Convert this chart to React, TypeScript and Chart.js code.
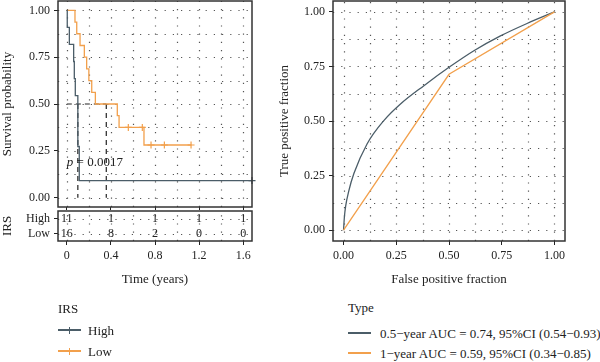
import React, { useEffect, useRef } from "react";
import { Chart, registerables } from "chart.js";
Chart.register(...registerables);

const FONT = "'Liberation Serif', 'DejaVu Serif', serif";
const HIGH_COLOR = "#4b5d68";
const LOW_COLOR = "#f2a04c";
const INK = "#222222";
const FRAME = "#333333";

// ---------- Kaplan-Meier data ----------
const kmGroups = ["High", "Low"];
const highTime = [0, 0.004, 0.023, 0.062, 0.068, 0.077, 0.1, 0.113, 1.68];
const highSurv = [1, 0.909, 0.818, 0.727, 0.636, 0.545, 0.273, 0.091, 0.091];
const highCensorTime = [1.68];
const highCensorSurv = [0.091];
const lowTime = [0, 0.074, 0.09, 0.12, 0.159, 0.18, 0.2, 0.226, 0.259, 0.458, 0.474, 0.7, 1.13];
const lowSurv = [1, 0.9375, 0.875, 0.8125, 0.75, 0.6875, 0.625, 0.5625, 0.5, 0.4375, 0.375, 0.281, 0.281];
const lowCensorTime = [0.558, 0.685, 0.764, 0.885, 1.127];
const lowCensorSurv = [0.375, 0.375, 0.281, 0.281, 0.281];
const medianTimes = [0.1, 0.358];
const medianLevel = 0.5;
const pValue = "0.0017";
const pValuePos = [0, 0.185];
const kmXTicks = [0, 0.4, 0.8, 1.2, 1.6];
const kmXGrid = [0, 0.2, 0.4, 0.6, 0.8, 1.0, 1.2, 1.4, 1.6];
const kmYTicks = [0, 0.25, 0.5, 0.75, 1];
const kmYGrid = [0, 0.125, 0.25, 0.375, 0.5, 0.625, 0.75, 0.875, 1];

// ---------- risk table ----------
const riskTimes = [0, 0.4, 0.8, 1.2, 1.6];
const riskHigh = [11, 1, 1, 1, 1];
const riskLow = [16, 8, 2, 0, 0];

// ---------- ROC data ----------
const roc05Fpr = [0, 0.004, 0.01, 0.025, 0.049, 0.112, 0.191, 0.27, 0.381, 0.5, 0.618, 0.744, 0.87, 1];
const roc05Tpr = [0, 0.06, 0.11, 0.18, 0.259, 0.396, 0.502, 0.578, 0.662, 0.746, 0.822, 0.89, 0.947, 1];
const roc1Fpr = [0, 0.5, 1];
const roc1Tpr = [0, 0.714, 1];
const rocTicks = [0, 0.25, 0.5, 0.75, 1];
const rocGrid = [0, 0.125, 0.25, 0.375, 0.5, 0.625, 0.75, 0.875, 1];
const rocLabels = [
  "0.5\u2212year AUC = 0.74, 95%CI (0.54\u22120.93)",
  "1\u2212year AUC = 0.59, 95%CI (0.34\u22120.85)",
];

const pts = (xs: number[], ys: number[]) => xs.map((x, i) => ({ x, y: ys[i] }));

const dotGrid = {
  id: "dotGrid",
  beforeDatasetsDraw(chart: any, _a: any, opts: any) {
    const { ctx, chartArea: a, scales } = chart;
    ctx.save();
    ctx.beginPath();
    ctx.rect(a.left, a.top, a.right - a.left, a.bottom - a.top);
    ctx.clip();
    ctx.strokeStyle = "#555555";
    ctx.lineWidth = 1.2;
    ctx.setLineDash([1.2, 7]);
    (opts.x || []).forEach((v: number) => {
      const p = Math.round(scales.x.getPixelForValue(v)) + 0.5;
      ctx.beginPath();
      ctx.moveTo(p, a.bottom);
      ctx.lineTo(p, a.top);
      ctx.stroke();
    });
    (opts.y || []).forEach((v: number) => {
      const p = Math.round(scales.y.getPixelForValue(v)) + 0.5;
      ctx.beginPath();
      ctx.moveTo(a.left, p);
      ctx.lineTo(a.right, p);
      ctx.stroke();
    });
    ctx.restore();
  },
};

const frame = {
  id: "frame",
  afterDraw(chart: any) {
    const { ctx, chartArea: a } = chart;
    ctx.save();
    ctx.strokeStyle = FRAME;
    ctx.lineWidth = 1.5;
    ctx.strokeRect(a.left, a.top, a.right - a.left, a.bottom - a.top);
    ctx.restore();
  },
};

const pText = {
  id: "pText",
  afterDatasetsDraw(chart: any) {
    const { ctx, scales } = chart;
    const x = scales.x.getPixelForValue(pValuePos[0]);
    const y = scales.y.getPixelForValue(pValuePos[1]);
    ctx.save();
    ctx.fillStyle = INK;
    ctx.textBaseline = "middle";
    ctx.textAlign = "left";
    ctx.font = `italic 13px ${FONT}`;
    ctx.fillText("p", x, y);
    const w = ctx.measureText("p").width;
    ctx.font = `13px ${FONT}`;
    ctx.fillText(" = " + pValue, x + w, y);
    ctx.restore();
  },
};

const riskNumbers = {
  id: "riskNumbers",
  afterDatasetsDraw(chart: any) {
    const { ctx, scales } = chart;
    ctx.save();
    ctx.fillStyle = INK;
    ctx.font = `12px ${FONT}`;
    ctx.textAlign = "center";
    ctx.textBaseline = "middle";
    [riskHigh, riskLow].forEach((row, g) => {
      const y = scales.y.getPixelForValue(g);
      row.forEach((n, i) => {
        ctx.fillText(String(n), scales.x.getPixelForValue(riskTimes[i]), y);
      });
    });
    ctx.restore();
  },
};

const tickFont = { family: FONT, size: 12 };
const titleFont = { family: FONT, size: 13 };

function linAxis(min: number, max: number, ticks: number[], fmt: (v: number) => string, extra: any) {
  return {
    type: "linear",
    min,
    max,
    afterBuildTicks: (s: any) => {
      s.ticks = ticks.map((v) => ({ value: v }));
    },
    ticks: { callback: (v: any) => fmt(Number(v)), font: tickFont, color: INK, padding: 4, autoSkip: false, maxRotation: 0 },
    grid: { drawOnChartArea: false, drawTicks: true, tickLength: 4, tickColor: INK, tickWidth: 1 },
    border: { display: false },
    ...extra,
  };
}

export default function App() {
  const kmRef = useRef<HTMLCanvasElement>(null);
  const riskRef = useRef<HTMLCanvasElement>(null);
  const rocRef = useRef<HTMLCanvasElement>(null);

  useEffect(() => {
    const charts: Chart[] = [];
    const common = {
      animation: false,
      responsive: false,
      maintainAspectRatio: false,
      events: [],
    };

    const kmDatasets: any[] = [
      {
        data: pts(highTime, highSurv),
        stepped: true,
        borderColor: HIGH_COLOR,
        borderWidth: 1.3,
        pointRadius: 0,
        clip: false,
      },
      {
        data: pts(lowTime, lowSurv),
        stepped: true,
        borderColor: LOW_COLOR,
        borderWidth: 1.3,
        pointRadius: 0,
      },
      {
        data: pts(highCensorTime, highCensorSurv),
        showLine: false,
        pointStyle: "cross",
        pointRadius: 3.5,
        pointBorderWidth: 1.2,
        borderColor: HIGH_COLOR,
        clip: false,
      },
      {
        data: pts(lowCensorTime, lowCensorSurv),
        showLine: false,
        pointStyle: "cross",
        pointRadius: 3.5,
        pointBorderWidth: 1.2,
        borderColor: LOW_COLOR,
      },
      {
        data: [
          { x: 0, y: medianLevel },
          { x: Math.max(...medianTimes), y: medianLevel },
        ],
        borderColor: INK,
        borderWidth: 1.2,
        borderDash: [5, 4],
        pointRadius: 0,
      },
      ...medianTimes.map((m) => ({
        data: [
          { x: m, y: medianLevel },
          { x: m, y: 0 },
        ],
        borderColor: INK,
        borderWidth: 1.2,
        borderDash: [5, 4],
        pointRadius: 0,
      })),
    ];

    charts.push(
      new Chart(kmRef.current!, {
        type: "line",
        data: { datasets: kmDatasets },
        options: {
          ...common,
          layout: { padding: { top: 12, right: 10, left: 0, bottom: 0 } },
          plugins: {
            legend: { display: false },
            tooltip: { enabled: false },
            dotGrid: { x: kmXGrid, y: kmYGrid },
          } as any,
          scales: {
            x: linAxis(-0.08, 1.68, kmXTicks, (v) => String(v), {
              ticks: { display: false },
              grid: { drawOnChartArea: false, drawTicks: true, tickLength: 3, tickColor: INK, tickWidth: 1 },
              afterFit: (s: any) => {
                s.height = 20;
              },
            }),
            y: linAxis(-0.05, 1.05, kmYTicks, (v) => v.toFixed(2), {
              afterFit: (s: any) => {
                s.width = 58;
              },
              title: { display: true, text: "Survival probability", font: titleFont, color: INK, padding: { top: 0, bottom: 0 } },
            }),
          } as any,
        } as any,
        plugins: [dotGrid, frame, pText],
      } as any)
    );

    charts.push(
      new Chart(riskRef.current!, {
        type: "line",
        data: { datasets: [] },
        options: {
          ...common,
          layout: { padding: { top: 12, right: 10, left: 0, bottom: 0 } },
          plugins: {
            legend: { display: false },
            tooltip: { enabled: false },
            dotGrid: { x: kmXGrid, y: [0, 1] },
          } as any,
          scales: {
            x: linAxis(-0.08, 1.68, kmXTicks, (v) => String(v), {
              afterFit: (s: any) => {
                s.height = 49;
              },
              title: { display: true, text: "Time (years)", font: titleFont, color: INK, padding: { top: 0, bottom: 3 } },
            }),
            y: {
              type: "category",
              labels: kmGroups,
              offset: true,
              afterFit: (s: any) => {
                s.width = 58;
              },
              ticks: { font: tickFont, color: INK, padding: 4, autoSkip: false },
              grid: { drawOnChartArea: false, drawTicks: true, tickLength: 4, tickColor: INK, tickWidth: 1 },
              border: { display: false },
              title: { display: true, text: "IRS", font: titleFont, color: INK, padding: { top: 0, bottom: 0 } },
            },
          } as any,
        } as any,
        plugins: [dotGrid, frame, riskNumbers],
      } as any)
    );

    charts.push(
      new Chart(rocRef.current!, {
        type: "line",
        data: {
          datasets: [
            {
              label: rocLabels[1],
              data: pts(roc1Fpr, roc1Tpr),
              borderColor: LOW_COLOR,
              borderWidth: 1.3,
              pointRadius: 0,
            },
            {
              label: rocLabels[0],
              data: pts(roc05Fpr, roc05Tpr),
              borderColor: HIGH_COLOR,
              borderWidth: 1.3,
              pointRadius: 0,
              cubicInterpolationMode: "monotone",
            },
          ],
        },
        options: {
          ...common,
          layout: { padding: { top: 12, right: 35, left: 0, bottom: 0 } },
          plugins: {
            legend: { display: false },
            tooltip: { enabled: false },
            dotGrid: { x: rocGrid, y: rocGrid },
          } as any,
          scales: {
            x: linAxis(-0.05, 1.05, rocTicks, (v) => v.toFixed(2), {
              afterFit: (s: any) => {
                s.height = 49;
              },
              title: { display: true, text: "False positive fraction", font: titleFont, color: INK, padding: { top: 0, bottom: 3 } },
            }),
            y: linAxis(-0.05, 1.05, rocTicks, (v) => v.toFixed(2), {
              afterFit: (s: any) => {
                s.width = 63;
              },
              title: { display: true, text: "True positive fraction", font: titleFont, color: INK, padding: { top: 7, bottom: 0 } },
            }),
          } as any,
        } as any,
        plugins: [dotGrid, frame],
      } as any)
    );

    return () => charts.forEach((c) => c.destroy());
  }, []);

  const text: React.CSSProperties = { position: "absolute", fontSize: 13, lineHeight: "15px", whiteSpace: "nowrap" };
  const kmKey = (color: string, top: number, label: string) => (
    <div key={label}>
      <div style={{ position: "absolute", left: 58, top: top - 0.65, width: 23, height: 1.3, background: color }} />
      <div style={{ position: "absolute", left: 69, top: top - 3.5, width: 1.3, height: 7, background: color }} />
      <div style={{ ...text, left: 88, top: top - 7.5 }}>{label}</div>
    </div>
  );
  const rocKey = (color: string, top: number, label: string) => (
    <div key={label}>
      <div style={{ position: "absolute", left: 348, top: top - 0.65, width: 23, height: 1.3, background: color }} />
      <div style={{ ...text, left: 380, top: top - 7.5 }}>{label}</div>
    </div>
  );

  return (
    <div
      style={{
        position: "fixed",
        left: 0,
        top: 0,
        width: 600,
        height: 362,
        background: "#ffffff",
        fontFamily: FONT,
        color: INK,
        overflow: "hidden",
      }}
    >
      <canvas ref={kmRef} width={262} height={238} style={{ position: "absolute", left: 0, top: -11, width: 262, height: 238 }} />
      <canvas ref={riskRef} width={262} height={91} style={{ position: "absolute", left: 0, top: 199, width: 262, height: 91 }} />
      <canvas ref={rocRef} width={330} height={301} style={{ position: "absolute", left: 270, top: -11, width: 330, height: 301 }} />
      <div style={{ ...text, left: 58, top: 301 }}>IRS</div>
      {kmKey(HIGH_COLOR, 330, kmGroups[0])}
      {kmKey(LOW_COLOR, 351, kmGroups[1])}
      <div style={{ ...text, left: 348, top: 300 }}>Type</div>
      {rocKey(HIGH_COLOR, 333, rocLabels[0])}
      {rocKey(LOW_COLOR, 353, rocLabels[1])}
    </div>
  );
}
